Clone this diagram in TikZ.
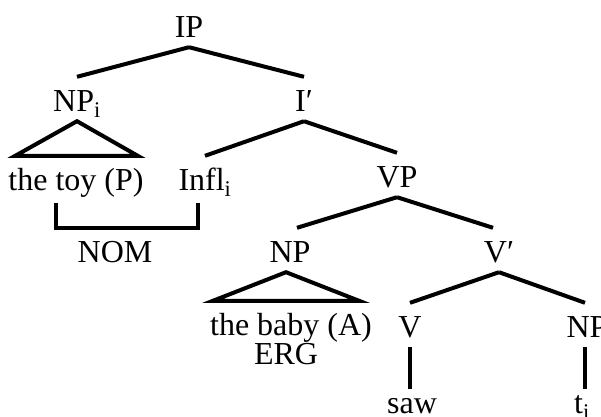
\documentclass[tikz,border=0pt]{standalone}
\usepackage{fontspec}
\setmainfont{Liberation Serif}
\begin{document}
\begin{tikzpicture}[x=1bp, y=-1bp, font=\fontsize{32bp}{38bp}\selectfont,
  tn/.style={anchor=base, inner sep=3bp, text height=31bp, text depth=7bp},
  branch/.style={line width=4bp}]
  \useasboundingbox (0,0) rectangle (601,416);
  \clip (0,0) rectangle (601,416);
  % clause
  \node[tn] (IP) at (189,37) {IP};
  \node[tn] (NPi) at (77,111) {NP\textsubscript{i}};
  \node[tn] (Ibar) at (304,111) {I′};
  \draw[branch] (IP.south) -- (NPi.north);
  \draw[branch] (IP.south) -- (Ibar.north);
  % subject
  \node[tn] (toy) at (76,190) {the toy (P)};
  \draw[branch] (NPi.south) -- ([xshift=10bp]toy.north west) -- ([xshift=-9bp]toy.north east) -- cycle;
  % inflection
  \node[tn] (Infl) at (205,190) {Infl\textsubscript{i}};
  \node[tn] (VP) at (397,187) {VP};
  \draw[branch] (Ibar.south) -- (Infl.north);
  \draw[branch] (Ibar.south) -- (VP.north);
  % case bracket
  \coordinate (nomL) at (56,203);
  \coordinate (nomR) at (198,203);
  \draw[branch] (nomL) -- ++(0,25) -| (nomR);
  \node[tn] (NOM) at (115,262) {NOM};
  % verb phrase
  \node[tn] (NPb) at (290,262) {NP};
  \node[tn] (Vbar) at (499,262) {V′};
  \draw[branch] (VP.south) -- ([xshift=7bp]NPb.north);
  \draw[branch] (VP.south) -- ([xshift=-6bp]Vbar.north);
  % agent
  \node[tn] (baby) at (291,335) {the baby (A)};
  \node[tn] (ERG) at (286,364) {ERG};
  \draw[branch] ([xshift=-4bp]NPb.south) -- ([xshift=6bp]baby.north west) -- ([xshift=-16bp]baby.north east) -- cycle;
  % verb and trace
  \node[tn] (V) at (410,337) {V};
  \node[tn] (NPt) at (587,337) {NP};
  \draw[branch] (Vbar.south) -- (V.north);
  \draw[branch] (Vbar.south) -- ([xshift=-2bp]NPt.north);
  \node[tn] (saw) at (412,413) {saw};
  \node[tn] (ti) at (582,413) {t\textsubscript{i}};
  \coordinate (tTop) at ([xshift=-2bp]NPt.south);
  \draw[branch] (V.south) -- ([yshift=-10bp]saw.north -| V.south);
  \draw[branch] (tTop) -- ([yshift=-10bp]ti.north -| tTop);
\end{tikzpicture}
\end{document}
